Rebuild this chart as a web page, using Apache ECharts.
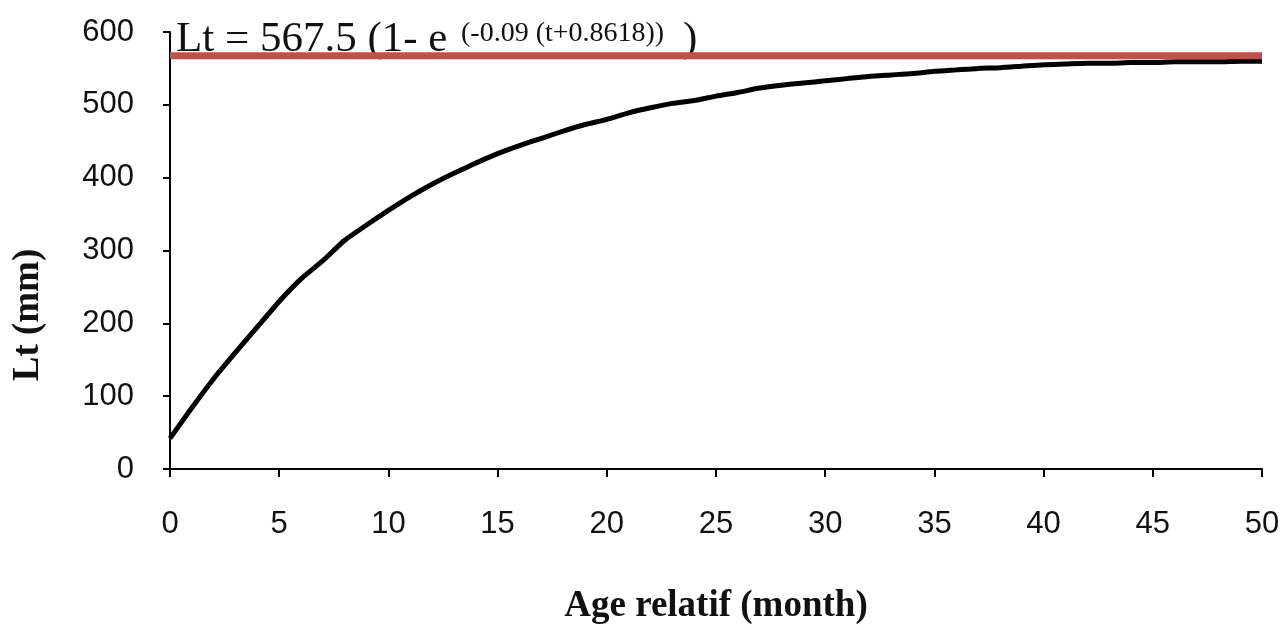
<!DOCTYPE html>
<html>
<head>
<meta charset="utf-8">
<title>Lt growth curve</title>
<script src="https://cdn.jsdelivr.net/npm/echarts@6/dist/echarts.min.js"></script>
<style>
  html, body { margin: 0; padding: 0; background: #fff; }
  #myChart { width: 1285px; height: 630px; }
</style>
</head>
<body>
<div id="myChart"></div>
<script>
// age relatif (month)
const ages = [
  0, 1, 2, 3, 4, 5, 6, 7, 8, 9,
  10, 11, 12, 13, 14, 15, 16, 17, 18, 19,
  20, 21, 22, 23, 24, 25, 26, 27, 28, 29,
  30, 31, 32, 33, 34, 35, 36, 37, 38, 39,
  40, 41, 42, 43, 44, 45, 46, 47, 48, 49, 50
];
// Lt (mm)
const lengths = [
  42, 84, 124, 160, 195, 230, 261, 286, 314, 335,
  355, 374, 391, 406, 420, 433, 444, 454, 464, 473,
  480, 489, 496, 502, 506, 512, 517, 523, 527, 530,
  533, 536, 539, 541, 543, 546, 548, 550, 551, 553,
  555, 556, 557, 557, 558, 558, 559, 559, 559, 560, 560
];
// L infinity
const lInf = 567.5;
const lInfAges = [0, 50];
const yTicks = [0, 100, 200, 300, 400, 500, 600];
const xTicks = [0, 5, 10, 15, 20, 25, 30, 35, 40, 45, 50];

let chart = echarts.init(document.getElementById("myChart"));

chart.setOption({
  animation: false,
  backgroundColor: "#fff",
  grid: { left: 170, right: 23, top: 32, bottom: 161 },
  xAxis: {
    type: "value",
    min: xTicks[0],
    max: xTicks[xTicks.length - 1],
    interval: 5,
    axisLine: { show: true, onZero: false, lineStyle: { color: "#000", width: 2 } },
    axisTick: { show: true, length: 8, lineStyle: { color: "#000", width: 2 } },
    axisLabel: {
      margin: 40,
      color: "#111",
      fontFamily: "Liberation Sans",
      fontSize: 31
    },
    splitLine: { show: false }
  },
  yAxis: {
    type: "value",
    min: yTicks[0],
    max: yTicks[yTicks.length - 1],
    interval: 100,
    axisLine: { show: true, lineStyle: { color: "#000", width: 2 } },
    axisTick: { show: true, length: 7, lineStyle: { color: "#000", width: 2 } },
    axisLabel: {
      margin: 36,
      color: "#111",
      fontFamily: "Liberation Sans",
      fontSize: 31
    },
    splitLine: { show: false }
  },
  graphic: [
    {
      type: "text",
      left: 176, top: 18,
      style: { text: "Lt = 567.5 (1- e", font: "43px 'Liberation Serif'", fill: "#111" }
    },
    {
      type: "text",
      left: 461, top: 20,
      style: { text: "(-0.09 (t+0.8618))", font: "28px 'Liberation Serif'", fill: "#111" }
    },
    {
      type: "text",
      left: 683, top: 18,
      style: { text: ")", font: "43px 'Liberation Serif'", fill: "#111" }
    },
    {
      type: "text",
      x: 28, y: 315,
      rotation: Math.PI / 2,
      style: {
        text: "Lt (mm)",
        font: "bold 37px 'Liberation Serif'",
        fill: "#111",
        align: "center",
        verticalAlign: "middle"
      }
    },
    {
      type: "text",
      x: 716, y: 606,
      style: {
        text: "Age relatif (month)",
        font: "bold 37px 'Liberation Serif'",
        fill: "#111",
        align: "center",
        verticalAlign: "middle"
      }
    }
  ],
  series: [
    {
      name: "Lt",
      type: "line",
      data: ages.map((t, i) => [t, lengths[i]]),
      symbol: "none",
      smooth: 0.2,
      lineStyle: { color: "#000", width: 5 },
      z: 2
    },
    {
      name: "Linf",
      type: "line",
      data: lInfAges.map(t => [t, lInf]),
      symbol: "none",
      lineStyle: { color: "#C0504D", width: 7 },
      z: 3
    }
  ]
});
</script>
</body>
</html>
